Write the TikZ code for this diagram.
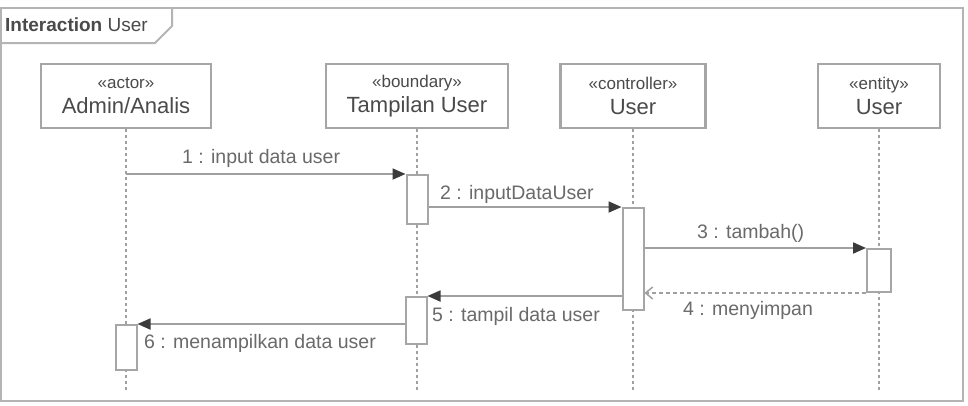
\documentclass[tikz,border=0pt]{standalone}
\usepackage{fontspec}
\setmainfont{Liberation Sans}
\usetikzlibrary{arrows.meta}
\definecolor{framec}{HTML}{B4B4B4}
\definecolor{boxc}{HTML}{A6A6A6}
\definecolor{linec}{HTML}{A0A0A0}
\definecolor{arrowc}{HTML}{3A3A3A}
\definecolor{namec}{HTML}{4A4A4A}
\definecolor{labc}{HTML}{6A6A6A}
\tikzset{
  head/.style={draw=boxc, line width=2.2pt, fill=white, minimum height=64pt, inner sep=0pt, align=center, text=namec, font=\fontsize{22}{25}\selectfont},
  lifeline/.style={draw=linec, line width=1.2pt, dash pattern=on 3pt off 3pt},
  act/.style={draw=boxc, line width=2pt, fill=white, minimum width=21pt, inner sep=0pt},
  msg/.style={draw=linec, line width=1.8pt, -{Triangle[length=13pt,width=11pt,color=arrowc]}},
  ret/.style={draw=linec, line width=1.5pt, dash pattern=on 4pt off 3pt, -{Straight Barb[length=7pt,width=12pt,color=linec]}},
  lab/.style={anchor=west, inner sep=0pt, text=labc, font=\fontsize{19.5}{22}\selectfont}
}
\newcommand{\stnm}[2]{{\fontsize{17}{20}\selectfont #1}\\#2}
\begin{document}
\begin{tikzpicture}[x=1pt,y=-1pt]
\useasboundingbox (0,0) rectangle (968,405);
\clip (0,0) rectangle (968,405);
\fill[white] (0,0) rectangle (968,405);
% frame
\draw[framec, line width=2.5pt] (1,8) rectangle (963,401);
\draw[framec, line width=2pt] (1,43) -- (155,43) -- (172,26) -- (172,8);
\node[anchor=base west, inner sep=0pt, text=namec, font=\fontsize{19}{22}\selectfont] (tab) at (5,31) {\textbf{Interaction} User};
% heads
\node[head, minimum width=170pt] (h1) at (126,96) {\stnm{«actor»}{Admin/Analis}};
\node[head, minimum width=182pt] (h2) at (417,96) {\stnm{«boundary»}{Tampilan User}};
\node[head, minimum width=145pt] (h3) at (633,96) {\stnm{«controller»}{User}};
\node[head, minimum width=122pt] (h4) at (879,96) {\stnm{«entity»}{User}};
% lifeline ends
\coordinate (e1) at (126,392);
\coordinate (e2) at (417,392);
\coordinate (e3) at (633,392);
\coordinate (e4) at (879,392);
\draw[lifeline] (h1.south) -- (e1);
\draw[lifeline] (h2.south) -- (e2);
\draw[lifeline] (h3.south) -- (e3);
\draw[lifeline] (h4.south) -- (e4);
% activations
\node[act, minimum height=49pt] (a1) at (417,199.5) {};
\node[act, minimum height=102pt] (a2) at (633,259) {};
\node[act, minimum height=43pt, minimum width=24pt] (a3) at (879,270.5) {};
\node[act, minimum height=47pt] (a4) at (416,320.5) {};
\node[act, minimum height=45pt] (a5) at (126,347.5) {};
% messages
\draw[msg] (h1.south |- a1.north) -- (a1.north west);
\draw[msg] (a1.east |- a2.north) -- (a2.north west);
\draw[msg] (a2.east |- a3.north) -- (a3.north west);
\draw[ret] (a3.south west) -- (a3.south west -| a2.east);
\draw[msg] (a2.west |- a4.north) -- (a4.north east);
\draw[msg] (a4.west |- a5.north) -- (a5.north east);
% labels
\node[lab] (m1) at (182,158) {1 : input data user};
\node[lab] (m2) at (440,194) {2 : inputDataUser};
\node[lab] (m3) at (697,233) {3 : tambah()};
\node[lab] (m4) at (683,310) {4 : menyimpan};
\node[lab] (m5) at (432,316) {5 : tampil data user};
\node[lab] (m6) at (144,343) {6 : menampilkan data user};
\end{tikzpicture}
\end{document}
